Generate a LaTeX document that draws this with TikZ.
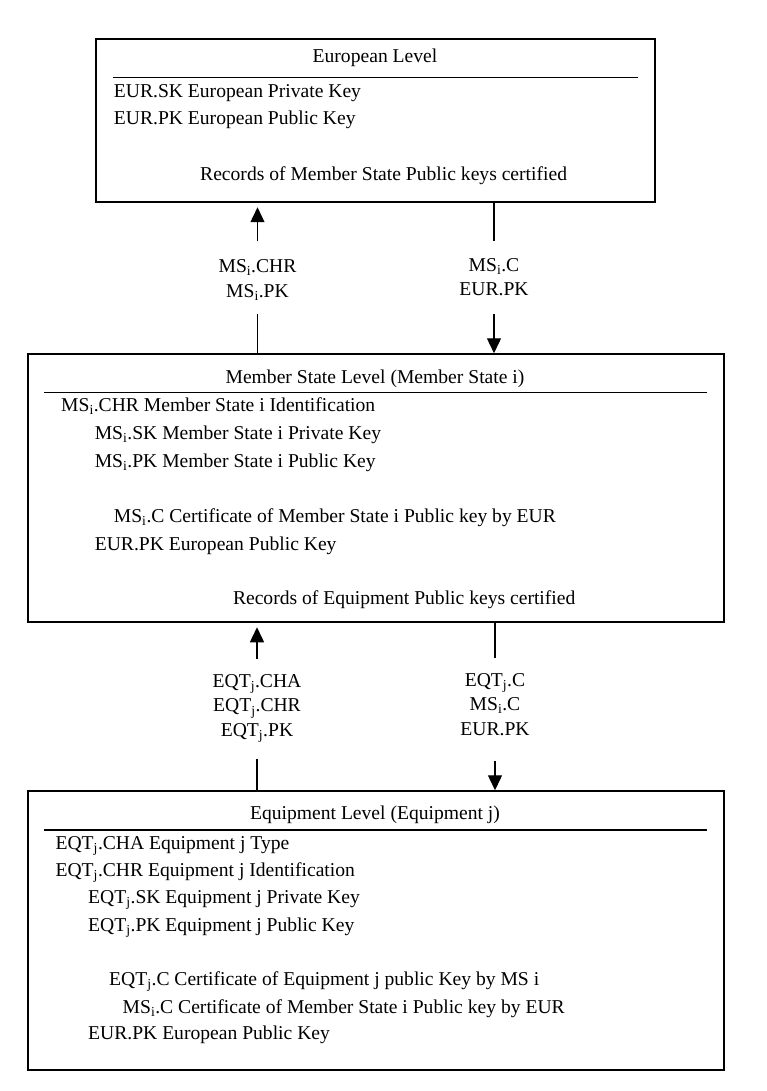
\documentclass[tikz,border=0pt]{standalone}
\usepackage{fontspec}
\setmainfont{Liberation Serif}
\usetikzlibrary{arrows.meta, positioning}

\tikzset{
  level/.style={draw, line width=1.5pt, inner sep=0pt},
  item/.style={anchor=base west, inner sep=0pt},
  head/.style={anchor=base, inner sep=0pt},
  rule/.style={line width=1.5pt},
  msg/.style={align=center, inner sep=0pt},
  up/.style={-{Triangle[length=15pt,width=14pt]}, line width=1.4pt, shorten >=4.5pt},
  down/.style={-{Triangle[length=15pt,width=14pt]}, line width=1.4pt},
  seg/.style={line width=1.4pt}
}

\begin{document}
\begin{tikzpicture}[x=1pt, y=-1pt, font=\fontsize{19.6}{24.6}\selectfont]
\useasboundingbox (0,0) rectangle (766,1091);

\node [level, minimum width=559pt, minimum height=163pt] (eur) at (375.5,120.5) {};
\node [level, minimum width=696pt, minimum height=268pt] (ms) at (376,488) {};
\node [level, minimum width=696pt, minimum height=279pt] (eqt) at (376,930.5) {};

\node [head] (eurT) at (375,63) {European Level};
\draw [rule] (113,77.3) -- (638,77.3);
\node [item] (eurSK) at (113.7,98) {EUR.SK European Private Key};
\node [item] (eurPK) at (113.7,124.5) {EUR.PK European Public Key};
\node [item] (eurRec) at (200,180.5) {Records of Member State Public keys certified};

\node [head] (msT) at (375,383) {Member State Level (Member State i)};
\draw [rule] (44,392.3) -- (707,392.3);
\node [item] (msCHR) at (61,411.5) {MS\textsubscript{i}.CHR Member State i Identification};
\node [item] (msSK) at (94.6,439.5) {MS\textsubscript{i}.SK Member State i Private Key};
\node [item] (msPK) at (94.6,467.5) {MS\textsubscript{i}.PK Member State i Public Key};
\node [item] (msC) at (113.7,522) {MS\textsubscript{i}.C Certificate of Member State i Public key by EUR};
\node [item] (msEUR) at (94.6,550.5) {EUR.PK European Public Key};
\node [item] (msRec) at (232.8,604.5) {Records of Equipment Public keys certified};

\node [head] (eqtT) at (375,819.5) {Equipment Level (Equipment j)};
\draw [rule] (44,830) -- (707,830);
\node [item] (eqtCHA) at (55.4,849) {EQT\textsubscript{j}.CHA Equipment j Type};
\node [item] (eqtCHR) at (55.4,876.5) {EQT\textsubscript{j}.CHR Equipment j Identification};
\node [item] (eqtSK) at (88,903.5) {EQT\textsubscript{j}.SK Equipment j Private Key};
\node [item] (eqtPK) at (88,931.5) {EQT\textsubscript{j}.PK Equipment j Public Key};
\node [item] (eqtC) at (109,985.5) {EQT\textsubscript{j}.C Certificate of Equipment j public Key by MS i};
\node [item] (eqtMS) at (122.5,1013) {MS\textsubscript{i}.C Certificate of Member State i Public key by EUR};
\node [item] (eqtEUR) at (88,1039.5) {EUR.PK European Public Key};

\node [msg] (msgA) at (257.5,280) {MS\textsubscript{i}.CHR\\MS\textsubscript{i}.PK};
\node [msg] (msgB) at (494,277) {MS\textsubscript{i}.C\\EUR.PK};
\node [msg] (msgC) at (257,708.5) {EQT\textsubscript{j}.CHA\\EQT\textsubscript{j}.CHR\\EQT\textsubscript{j}.PK};
\node [msg] (msgD) at (495,704.5) {EQT\textsubscript{j}.C\\MS\textsubscript{i}.C\\EUR.PK};

\path (msgA) edge [up, shorten <=18pt] (msgA |- eur.south)
      (msgA) edge [seg, shorten <=13pt] (msgA |- ms.north)
      (msgB) edge [seg, shorten <=17pt] (msgB |- eur.south)
      (msgB) edge [down, shorten <=18pt] (msgB |- ms.north)
      (msgC) edge [up, shorten <=15pt] (msgC |- ms.south)
      (msgC) edge [seg, shorten <=16pt] (msgC |- eqt.north)
      (msgD) edge [seg, shorten <=15pt] (msgD |- ms.south)
      (msgD) edge [down, shorten <=25pt] (msgD |- eqt.north);
\end{tikzpicture}
\end{document}
